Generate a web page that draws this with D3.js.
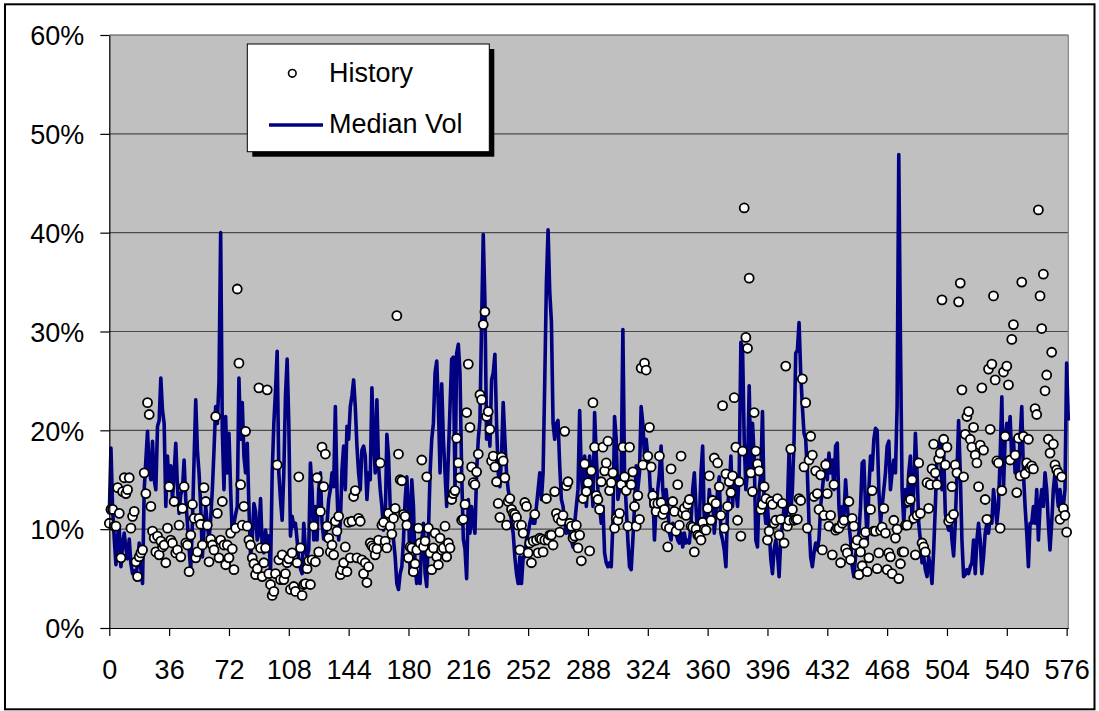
<!DOCTYPE html>
<html><head><meta charset="utf-8">
<script src="https://cdn.jsdelivr.net/npm/d3@7"></script>
<style>
body{margin:0;background:#fff}
svg{display:block}
text{font-family:"Liberation Sans",Arial,Helvetica,sans-serif}
</style>
</head><body>
<svg id="chart" width="1099" height="711"></svg>
<script>
// Median Vol (%), one value per observation index 0..577
const medianVol = [
11.5,18.2,12.0,9.0,6.4,9.5,10.0,6.2,8.5,9.6,
8.0,7.0,9.0,6.5,5.5,5.8,5.2,6.5,8.6,6.0,
4.5,14.0,17.0,19.9,16.0,15.0,18.9,15.0,14.0,20.4,
21.0,25.3,22.0,20.7,12.3,17.4,14.0,16.4,13.0,15.7,
18.7,14.3,11.6,13.5,14.0,17.0,13.0,10.6,8.0,5.9,
10.6,17.0,23.1,18.0,15.7,12.3,7.2,10.0,12.3,10.5,
8.9,11.0,14.0,18.0,22.4,20.7,25.0,40.0,20.0,14.0,
21.4,15.7,19.7,14.0,9.3,10.6,11.5,12.3,25.3,19.1,
22.8,17.4,15.7,18.7,12.3,7.2,8.9,12.6,11.8,8.9,
9.6,13.1,8.2,7.6,9.9,8.6,9.3,5.5,15.7,20.7,
24.0,28.0,15.7,13.0,10.9,15.7,23.5,27.2,20.7,9.3,
11.3,10.3,10.6,8.9,6.9,6.0,5.5,10.6,8.0,7.2,
7.9,16.7,14.0,8.9,12.3,8.9,14.0,15.7,10.6,9.0,
8.9,10.6,13.0,14.0,15.7,14.3,22.4,14.0,8.9,10.6,
16.0,18.4,14.0,20.4,19.1,22.4,23.5,25.1,22.4,18.4,
15.7,14.0,18.0,18.4,17.4,13.0,15.7,15.0,24.3,19.1,
15.7,23.1,16.4,14.0,12.3,9.9,10.6,19.6,17.4,12.3,
10.6,8.9,7.2,4.5,3.9,5.5,6.2,8.9,13.0,15.3,
12.3,5.5,15.0,12.3,6.2,4.5,5.5,4.5,8.9,10.6,
5.5,4.2,9.6,15.7,19.1,20.7,25.8,27.0,22.4,15.7,
24.7,19.1,15.7,12.3,17.4,22.4,27.2,27.4,14.0,27.8,
28.7,25.8,15.7,9.0,8.0,5.0,13.0,9.6,12.3,10.6,
9.6,15.7,19.1,21.0,30.9,39.8,33.0,19.1,21.4,18.4,
25.1,25.8,27.7,20.7,15.7,14.3,17.5,22.8,19.1,15.7,
14.0,13.0,10.6,9.6,7.2,5.5,4.5,7.2,4.5,7.2,
7.2,8.9,9.6,10.6,11.3,10.6,10.6,12.3,14.0,15.7,
13.0,15.7,25.0,35.0,40.3,34.0,31.0,20.7,19.1,20.7,
21.0,16.4,13.0,12.3,10.6,9.6,10.6,9.6,8.9,8.2,
10.6,12.3,14.0,22.0,15.7,13.0,17.4,12.3,15.0,17.4,
15.7,12.3,21.8,17.4,14.0,12.3,10.6,12.3,7.6,6.6,
6.2,6.6,6.2,10.6,21.4,19.1,13.0,14.0,15.7,30.2,
15.7,12.3,8.9,6.2,5.9,8.9,12.3,16.4,14.0,15.7,
22.4,20.7,17.4,19.1,17.4,15.7,12.3,14.0,8.9,12.3,
14.0,15.7,18.4,14.0,12.3,14.0,12.3,9.6,8.9,10.6,
10.3,9.6,8.9,8.6,9.6,8.2,9.6,8.6,8.9,8.6,
10.6,14.0,15.7,12.3,8.9,10.6,15.7,18.4,10.6,12.3,
10.6,14.0,12.3,13.3,9.6,11.6,14.0,15.3,9.6,8.9,
7.9,6.2,12.3,14.0,17.4,12.3,15.7,14.0,12.3,15.7,
28.9,28.4,19.1,14.0,15.7,24.5,15.7,20.7,17.4,8.9,
8.2,14.0,15.7,21.9,12.3,10.6,12.3,9.9,7.0,5.5,
7.9,8.9,7.6,5.2,8.9,10.6,12.3,10.9,12.3,18.0,
11.6,14.0,19.1,27.8,28.1,30.9,25.8,22.4,19.7,19.1,
15.7,10.6,7.2,6.2,7.6,8.6,7.9,9.0,12.3,14.0,
15.7,17.0,15.0,17.7,15.7,17.0,14.0,18.4,18.7,12.3,
9.9,12.3,11.3,15.0,12.3,10.6,8.9,6.2,5.2,7.2,
8.9,9.6,12.3,16.7,16.9,12.3,8.9,14.0,17.4,16.0,
19.1,20.2,20.0,14.0,10.6,12.3,14.0,15.7,18.4,18.9,
14.0,15.7,17.0,15.7,22.4,47.9,29.2,14.0,10.6,14.0,
12.3,15.7,17.4,10.6,14.0,19.7,15.7,10.6,8.9,6.6,
7.2,5.9,5.2,7.2,6.2,4.5,7.9,12.3,17.4,17.4,
19.1,14.0,18.0,11.6,10.6,9.9,11.6,8.9,7.3,10.6,
15.7,21.0,15.7,8.9,5.2,5.4,5.9,5.5,6.2,6.6,
8.9,5.5,8.9,10.6,8.9,5.5,7.2,9.6,10.6,9.6,
11.3,10.6,14.0,12.3,10.6,12.3,17.4,23.4,14.0,19.1,
20.7,19.1,21.4,17.0,19.1,15.7,17.4,15.7,19.1,22.4,
15.7,12.3,9.6,6.2,10.6,10.6,12.3,10.6,14.0,8.9,
12.3,14.0,12.3,15.7,14.0,10.6,7.9,10.6,14.0,15.7,
14.0,12.3,14.0,12.3,12.3,14.0,26.8,21.0
];

// History (%), one value per observation index 0..576
const historyVol = [
10.6,12.0,12.0,10.3,10.3,14.2,11.6,7.1,13.8,15.2,
13.6,14.0,15.2,10.1,11.3,11.8,6.7,5.2,7.2,7.6,
7.9,15.7,13.6,22.8,21.6,12.3,9.8,9.1,7.7,9.3,
7.4,8.8,8.2,8.4,6.6,10.1,14.3,8.9,8.6,12.8,
7.6,7.9,10.4,7.2,12.1,14.3,8.6,8.4,5.7,9.4,
12.5,11.1,7.1,7.7,11.1,10.5,8.4,14.2,12.8,10.4,
6.7,9.0,8.4,7.9,21.4,11.6,7.1,8.9,12.8,8.4,
6.4,8.4,7.1,9.6,8.0,5.9,10.1,34.3,26.8,14.5,
10.4,12.3,19.9,10.3,8.9,8.4,7.1,6.5,5.4,6.0,
24.3,8.1,5.2,6.6,8.1,24.1,5.5,4.4,3.3,3.7,
5.5,16.5,6.9,4.9,7.4,4.9,5.5,6.6,7.0,3.9,
7.6,4.2,3.7,6.6,15.3,8.1,3.3,4.4,4.5,6.0,
6.8,4.4,6.9,10.3,6.7,15.2,7.7,11.8,18.3,14.3,
17.6,10.3,9.1,7.7,8.4,7.4,10.8,9.8,11.3,5.4,
5.9,6.6,8.2,5.7,10.7,7.1,10.8,13.3,13.9,7.1,
11.1,10.8,6.9,5.5,6.6,4.6,6.2,8.6,8.3,8.1,
7.4,8.0,8.9,16.7,10.4,10.7,8.8,8.1,11.6,10.3,
9.5,11.1,12.1,31.6,17.6,15.0,14.9,11.5,11.3,10.4,
7.1,8.2,8.1,5.7,6.5,7.9,10.1,8.6,17.0,8.2,
8.8,15.3,10.1,7.6,5.9,8.1,9.6,7.2,6.4,9.1,
7.9,8.1,10.3,7.2,8.6,8.1,13.0,13.6,13.9,19.2,
16.7,15.2,10.9,11.0,12.5,21.8,26.7,20.3,16.3,14.7,
14.5,15.8,17.6,23.6,23.1,30.7,32.0,21.4,21.9,20.1,
16.9,17.4,16.3,14.8,12.6,11.2,17.3,16.9,15.2,10.4,
12.8,13.1,12.0,11.6,11.5,11.2,10.4,7.9,10.4,9.6,
12.7,12.3,7.6,8.6,6.6,8.8,11.5,8.9,7.6,9.1,
9.0,7.7,8.9,13.1,8.9,9.4,9.4,8.4,13.8,11.6,
11.1,9.7,10.8,11.4,19.9,14.4,14.8,10.6,10.3,9.1,
9.3,10.4,8.1,9.4,6.8,13.1,16.6,13.8,14.7,7.8,
15.9,22.8,18.3,13.4,13.0,12.0,14.8,18.3,15.9,16.7,
18.9,13.9,14.7,15.7,10.1,11.1,10.9,11.6,14.5,18.3,
15.3,13.9,10.3,18.3,14.5,15.8,12.3,10.3,13.4,11.0,
26.3,16.5,26.8,26.1,17.4,20.3,16.3,13.4,12.6,11.8,
12.6,17.4,12.7,11.5,12.0,10.3,8.2,10.1,16.1,12.8,
11.8,9.8,14.5,10.4,17.4,11.6,12.1,11.4,12.5,13.0,
10.3,10.2,7.7,10.0,9.4,9.3,8.9,10.7,10.0,9.9,
12.1,15.4,10.9,12.9,17.2,12.6,16.7,14.3,11.4,22.5,
10.1,15.6,12.3,14.8,13.7,15.4,23.3,18.3,10.9,14.8,
9.3,17.9,42.5,29.4,28.3,35.4,15.7,13.8,21.8,17.9,
16.6,15.9,12.0,12.5,14.3,13.1,8.9,9.8,12.8,12.5,
10.6,10.9,13.1,9.4,11.0,12.6,8.6,26.5,10.3,10.9,
18.1,12.0,10.9,11.0,11.0,13.1,12.9,25.2,16.3,22.8,
10.1,17.0,19.4,17.5,13.3,15.9,13.6,12.0,15.5,7.9,
11.4,16.5,13.6,10.3,11.4,7.4,14.5,9.9,10.1,10.1,
6.6,10.6,10.9,8.0,7.6,12.8,6.9,11.1,10.3,8.4,
8.9,5.4,7.7,6.3,8.6,9.7,5.7,7.1,12.0,13.9,
9.8,9.8,6.0,7.6,9.9,10.2,12.1,9.6,5.9,7.6,
7.2,5.5,10.9,9.1,10.0,5.0,6.5,7.7,7.7,10.4,
10.4,12.8,13.0,15.0,11.1,7.4,11.4,16.7,11.6,8.6,
8.2,7.7,14.7,12.1,14.5,16.1,18.6,15.7,14.5,17.1,
17.7,33.2,19.1,16.5,18.3,10.8,11.1,14.3,11.5,16.5,
15.7,33.0,34.9,24.1,15.3,19.6,21.4,21.9,19.1,18.3,
20.3,17.5,16.7,14.3,18.5,24.3,18.0,13.0,11.0,26.2,
20.1,26.7,33.6,25.1,16.9,16.7,10.1,13.9,25.9,19.4,
26.5,24.6,17.0,29.2,30.7,17.5,13.7,19.2,15.4,35.0,
19.4,15.6,16.7,19.1,16.2,16.4,16.1,22.2,21.6,42.3,
33.6,30.3,35.8,24.0,25.6,19.1,17.7,27.9,18.6,16.5,
16.0,15.7,11.0,15.3,12.1,11.4,9.7
];

const xTickValues = [0,36,72,108,144,180,216,252,288,324,360,396,432,468,504,540,576];
const yTickValues = [0,10,20,30,40,50,60];
const seriesNames = ["History","Median Vol"];

const svg = d3.select("#chart");
const plot = {left:109.3, right:1068.3, top:35, bottom:628};
const FS = 27;

// outer frame
svg.append("rect").attr("x",5).attr("y",4.3).attr("width",1089.5).attr("height",705)
  .attr("fill","#fff").attr("stroke","#000").attr("stroke-width",2);

const x = d3.scaleLinear().domain([0, medianVol.length-1]).range([plot.left, plot.right]);
const y = d3.scaleLinear().domain([0, 60]).range([plot.bottom, plot.top]);

// plot background
svg.append("rect").attr("x",plot.left).attr("y",plot.top)
  .attr("width",plot.right-plot.left).attr("height",plot.bottom-plot.top)
  .attr("fill","#c0c0c0");

// gridlines
svg.append("g").selectAll("line").data(yTickValues.filter(v=>v>0)).join("line")
  .attr("x1",plot.left).attr("x2",plot.right)
  .attr("y1",d=>y(d)).attr("y2",d=>y(d))
  .attr("stroke","#4a4a4a").attr("stroke-width",1.2);

// right border
svg.append("line").attr("x1",plot.right).attr("x2",plot.right)
  .attr("y1",plot.top).attr("y2",plot.bottom).attr("stroke","#808080").attr("stroke-width",1.2);

// line
const line = d3.line().x((d,i)=>x(i)).y(d=>y(d));
svg.append("path").datum(medianVol).attr("d",line)
  .attr("fill","none").attr("stroke","#000080").attr("stroke-width",3.6)
  .attr("stroke-linejoin","round");

// circles
svg.append("g").selectAll("circle").data(historyVol).join("circle")
  .attr("cx",(d,i)=>x(i)).attr("cy",d=>y(d)).attr("r",4.5)
  .attr("fill","#fff").attr("stroke","#000").attr("stroke-width",1.8);

// axes
const xAxis = d3.axisBottom(x).tickValues(xTickValues).tickSize(8).tickSizeOuter(0).tickFormat(d=>d);
const gx = svg.append("g").attr("transform",`translate(0,${plot.bottom})`).call(xAxis);
gx.select(".domain").attr("stroke","#000").attr("stroke-width",1.2);
gx.selectAll(".tick line").attr("stroke","#000").attr("stroke-width",1.2);
gx.selectAll(".tick text").attr("y",51).attr("dy",0)
  .attr("font-size",FS).attr("fill","#000").attr("font-family","Liberation Sans, Arial, sans-serif");

const yAxis = d3.axisLeft(y).tickValues(yTickValues).tickSize(9).tickSizeOuter(0).tickFormat(d=>d+"%");
const gy = svg.append("g").attr("transform",`translate(${plot.left},0)`).call(yAxis);
gy.select(".domain").attr("stroke","#000").attr("stroke-width",1.2);
gy.selectAll(".tick line").attr("stroke","#000").attr("stroke-width",1.2);
gy.selectAll(".tick text").attr("x",-25).attr("dy","0.36em")
  .attr("font-size",FS).attr("fill","#000").attr("font-family","Liberation Sans, Arial, sans-serif");

// legend
const lg = svg.append("g");
const lb = {x:247.3, y:44, w:242, h:107.7};
lg.append("rect").attr("x",lb.x+5).attr("y",lb.y+5).attr("width",lb.w).attr("height",lb.h).attr("fill","#000");
lg.append("rect").attr("x",lb.x).attr("y",lb.y).attr("width",lb.w).attr("height",lb.h)
  .attr("fill","#fff").attr("stroke","#000").attr("stroke-width",1);
lg.append("circle").attr("cx",292.3).attr("cy",73.3).attr("r",3.8)
  .attr("fill","#fff").attr("stroke","#000").attr("stroke-width",1.6);
lg.append("line").attr("x1",269).attr("x2",323).attr("y1",125).attr("y2",125)
  .attr("stroke","#000080").attr("stroke-width",3.4);
lg.append("text").attr("x",329).attr("y",81.7).attr("font-size",FS).attr("fill","#000").text(seriesNames[0]);
lg.append("text").attr("x",329).attr("y",132.7).attr("font-size",FS).attr("fill","#000").text(seriesNames[1]);
</script>
</body></html>
